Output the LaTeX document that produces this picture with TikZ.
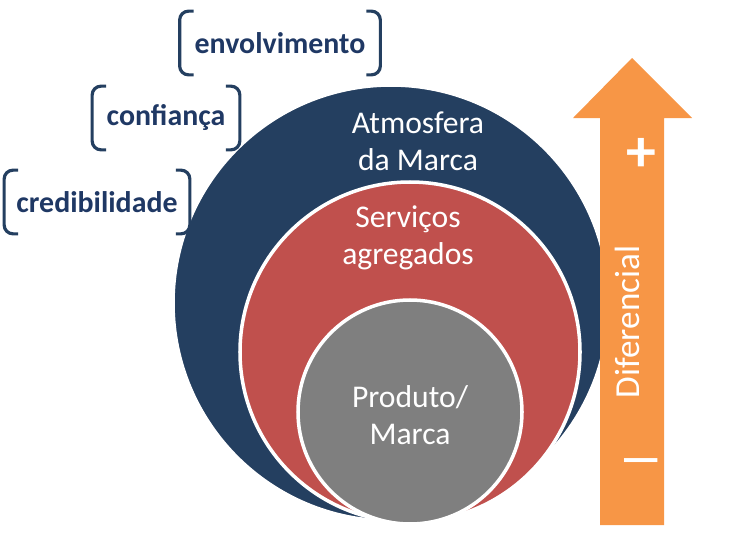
\documentclass[tikz,border=0pt]{standalone}
\usepackage{fontspec}
\setmainfont{Carlito}
\usetikzlibrary{positioning,calc}
\definecolor{navy}{HTML}{243F60}
\definecolor{brick}{HTML}{C0504D}
\definecolor{stone}{HTML}{7F7F7F}
\definecolor{tangerine}{HTML}{F79646}
\definecolor{ink}{HTML}{1F3864}

\begin{document}
\begin{tikzpicture}[x=0.02cm,y=-0.02cm,
        ring/.style = {draw=white, line width=2pt},
        label/.style = {text=white, align=center, font=\fontsize{18}{21}\selectfont},
        tag/.style = {minimum height=1.26cm, inner sep=0pt, text=ink,
        font=\bfseries\fontsize{17}{19}\selectfont},
        brk/.style = {draw=navy, line width=1.8pt, rounded corners=5pt}]
    \useasboundingbox (0,0) rectangle (750,548);
    % circles
    \fill[navy, ring] (391,303) circle (218);
    \fill[brick, ring] (410,352) circle (170);
    \fill[stone, ring] (410,412) circle (112);
    \node[label] (atm) at (418,141) {Atmosfera\\da Marca};
    \node[label] (serv) at (408,238) {Serviços\\agregados};
    \node[label] (prod) at (410,415) {Produto/\\Marca};
    % arrow
    \fill[tangerine] (600,525) -- (600,118) -- (573,118) -- (632,58)
        -- (692,118) -- (664,118) -- (664,525) -- cycle;
    \node[text=white, font=\bfseries\fontsize{34}{36}\selectfont] (plus) at (641,155) {+};
    \node[text=white, font=\bfseries\fontsize{26}{28}\selectfont] (minus) at (641,466) {---};
    \node[label, rotate=90, font=\fontsize{20}{22}\selectfont] (dif) at (627,322) {Diferencial};
    % brackets
    \node[tag, minimum width=4cm] (env) at (280,43) {envolvimento};
    \node[tag, minimum width=2.94cm] (conf) at (166,118) {confiança};
    \node[tag, minimum width=3.7cm] (cred) at (97,202) {credibilidade};
    \foreach \n in {env,conf,cred} {
        \draw[brk] ([xshift=8pt]\n.north west) -- (\n.north west)
            -- (\n.south west) -- ([xshift=8pt]\n.south west);
        \draw[brk] ([xshift=-8pt]\n.north east) -- (\n.north east)
            -- (\n.south east) -- ([xshift=-8pt]\n.south east);
    }
\end{tikzpicture}
\end{document}
